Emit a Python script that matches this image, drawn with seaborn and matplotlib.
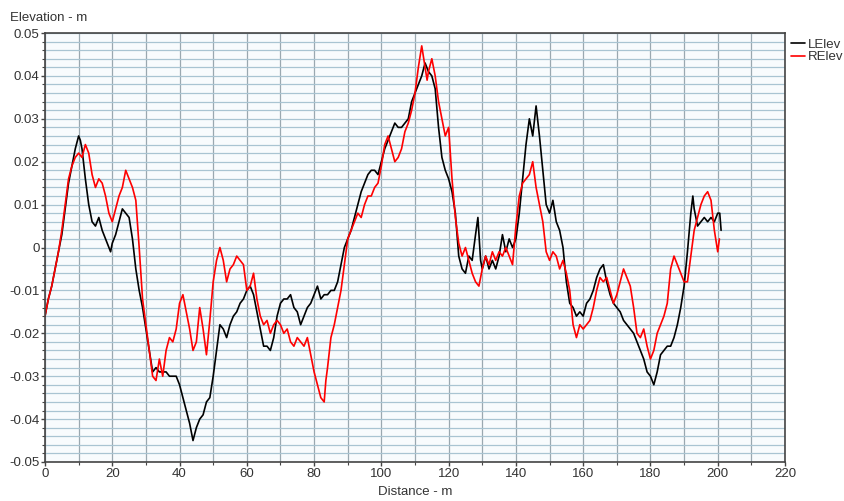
import numpy as np
import pandas as pd
import matplotlib
matplotlib.use("Agg")
import matplotlib.pyplot as plt
from matplotlib.ticker import MultipleLocator, FuncFormatter
import seaborn as sns

# ---- data ----
l_dist = [0, 1, 2, 3, 4, 5, 6, 7, 8, 9, 10, 10.5, 11, 12, 13, 14, 15, 16, 17, 18, 19, 19.5,
          20, 21, 22, 23, 24, 25, 26, 27, 28, 29, 30, 31, 32, 33, 34, 35, 36, 37, 38, 39,
          40, 41, 42, 43, 44, 45, 46, 47, 48, 49, 50, 51, 52, 53, 54, 55, 56, 57, 58, 59,
          60, 61, 62, 63, 64, 65, 66, 67, 68, 69, 70, 71, 72, 73, 74, 75, 76, 77, 78, 79,
          80, 81, 82, 83, 84, 85, 86, 87, 88, 89, 90, 91, 92, 93, 94, 95, 96, 97, 98, 99,
          100, 101, 102, 103, 104, 105, 106, 107, 108, 109, 110, 111, 112, 113, 114, 115,
          116, 117, 118, 119, 120, 121, 122, 123, 124, 125, 126, 127, 128, 128.7, 129.5,
          130, 131, 132, 133, 134, 135, 136, 137, 138, 139, 140, 141, 142, 143, 144, 145,
          146, 147, 148, 149, 150, 151, 152, 153, 154, 155, 156, 157, 158, 159, 160, 161,
          162, 163, 164, 165, 166, 167, 168, 169, 170, 171, 172, 173, 174, 175, 176, 177,
          178, 179, 180, 181, 182, 183, 184, 185, 186, 187, 188, 189, 190, 191, 192, 192.6,
          193, 194, 195, 196, 197, 198, 199, 200, 200.6, 201]
l_elev = [-0.016, -0.012, -0.009, -0.005, -0.001, 0.003, 0.009, 0.015, 0.019, 0.023, 0.026, 0.025,
          0.023, 0.016, 0.010, 0.006, 0.005, 0.007, 0.004, 0.002, 0.000, -0.001,
          0.001, 0.003, 0.006, 0.009, 0.008, 0.007, 0.002, -0.005, -0.010, -0.014, -0.019, -0.024,
          -0.029, -0.028, -0.029, -0.029, -0.029, -0.030, -0.030, -0.030,
          -0.032, -0.035, -0.038, -0.041, -0.045, -0.042, -0.040, -0.039, -0.036, -0.035, -0.030,
          -0.024, -0.018, -0.019, -0.021, -0.018, -0.016, -0.015, -0.013, -0.012,
          -0.010, -0.009, -0.011, -0.015, -0.019, -0.023, -0.023, -0.024, -0.021, -0.016, -0.013,
          -0.012, -0.012, -0.011, -0.014, -0.015, -0.018, -0.016, -0.014, -0.013,
          -0.011, -0.009, -0.012, -0.011, -0.011, -0.010, -0.010, -0.008, -0.004, 0.000, 0.002,
          0.004, 0.007, 0.010, 0.013, 0.015, 0.017, 0.018, 0.018, 0.017,
          0.020, 0.023, 0.025, 0.027, 0.029, 0.028, 0.028, 0.029, 0.030, 0.034, 0.036, 0.038,
          0.040, 0.043, 0.041, 0.040,
          0.037, 0.028, 0.021, 0.018, 0.016, 0.013, 0.008, -0.002, -0.005, -0.006, -0.002, -0.003,
          0.003, 0.007, -0.003,
          -0.005, -0.002, -0.005, -0.003, -0.005, -0.002, 0.003, -0.001, 0.002, 0.000, 0.002,
          0.008, 0.016, 0.024, 0.030, 0.026,
          0.033, 0.026, 0.018, 0.010, 0.008, 0.011, 0.006, 0.004, 0.000, -0.008, -0.013, -0.014,
          -0.016, -0.015, -0.016, -0.013,
          -0.012, -0.010, -0.007, -0.005, -0.004, -0.008, -0.011, -0.013, -0.014, -0.015, -0.017,
          -0.018, -0.019, -0.020, -0.022, -0.024,
          -0.026, -0.029, -0.030, -0.032, -0.029, -0.025, -0.024, -0.023, -0.023, -0.021, -0.018,
          -0.014, -0.009, -0.001, 0.008, 0.012,
          0.009, 0.005, 0.006, 0.007, 0.006, 0.007, 0.006, 0.008, 0.008, 0.004]

r_dist = [0, 1, 2, 3, 4, 5, 6, 7, 8, 9, 10, 11, 12, 13, 14, 15, 16, 17, 18, 19,
          20, 21, 22, 23, 24, 25, 26, 27, 28, 29, 30, 31, 32, 33, 34, 35, 36, 37, 38, 39,
          40, 41, 42, 43, 44, 45, 46, 47, 48, 49, 50, 51, 52, 53, 54, 55, 56, 57, 58, 59,
          60, 61, 62, 63, 64, 65, 66, 67, 68, 69, 70, 71, 72, 73, 74, 75, 76, 77, 78, 79,
          80, 81, 82, 83, 83.5, 84, 85, 86, 87, 88, 89, 90, 91, 92, 93, 94, 95, 96, 97, 98, 99,
          100, 101, 102, 103, 104, 105, 106, 107, 108, 109, 110, 111, 112, 113, 113.6, 114,
          115, 116, 117, 118, 119, 120, 121, 122, 123, 124, 125, 126, 127, 128, 129,
          130, 131, 132, 133, 134, 135, 136, 137, 138, 139, 140, 141, 142, 143, 144, 145,
          146, 147, 148, 149, 150, 151, 152, 153, 154, 155, 156, 157, 158, 159, 160, 161,
          162, 163, 164, 165, 166, 167, 168, 169, 170, 171, 172, 173, 174, 175, 176, 177,
          178, 179, 180, 181, 182, 183, 184, 185, 186, 187, 188, 189, 190, 191, 192, 193,
          194, 195, 196, 197, 198, 199, 200, 200.5]
r_elev = [-0.016, -0.012, -0.009, -0.005, -0.001, 0.004, 0.010, 0.016, 0.019, 0.021, 0.022,
          0.021, 0.024, 0.022, 0.017, 0.014, 0.016, 0.015, 0.012, 0.008,
          0.006, 0.009, 0.012, 0.014, 0.018, 0.016, 0.014, 0.011, 0.000, -0.012, -0.018, -0.024,
          -0.030, -0.031, -0.026, -0.030, -0.024, -0.021, -0.022, -0.019,
          -0.013, -0.011, -0.015, -0.019, -0.024, -0.022, -0.014, -0.019, -0.025, -0.017, -0.008,
          -0.003, 0.000, -0.003, -0.008, -0.005, -0.004, -0.002, -0.003, -0.004,
          -0.010, -0.009, -0.006, -0.012, -0.016, -0.018, -0.017, -0.020, -0.018, -0.017, -0.018,
          -0.020, -0.019, -0.022, -0.023, -0.021, -0.022, -0.023, -0.021, -0.025,
          -0.029, -0.032, -0.035, -0.036, -0.031, -0.028, -0.021, -0.018, -0.014, -0.010, -0.004,
          0.002, 0.004, 0.006, 0.008, 0.007, 0.010, 0.012, 0.012, 0.014, 0.015,
          0.019, 0.024, 0.026, 0.023, 0.020, 0.021, 0.023, 0.027, 0.029, 0.032, 0.036, 0.042,
          0.047, 0.042, 0.039, 0.041,
          0.044, 0.040, 0.034, 0.030, 0.026, 0.028, 0.016, 0.007, 0.001, -0.002, 0.000, -0.003,
          -0.006, -0.008, -0.009,
          -0.005, -0.002, -0.004, -0.001, -0.003, -0.001, -0.002, 0.000, -0.002, -0.004, 0.005,
          0.012, 0.015, 0.016, 0.017, 0.020,
          0.014, 0.010, 0.006, -0.001, -0.003, -0.001, -0.002, -0.005, -0.003, -0.006, -0.010,
          -0.018, -0.021, -0.018, -0.019, -0.018,
          -0.017, -0.014, -0.010, -0.007, -0.008, -0.007, -0.010, -0.013, -0.011, -0.008, -0.005,
          -0.007, -0.009, -0.014, -0.020, -0.021,
          -0.019, -0.023, -0.026, -0.024, -0.020, -0.018, -0.016, -0.013, -0.005, -0.002, -0.004,
          -0.006, -0.008, -0.008, -0.002, 0.004,
          0.007, 0.010, 0.012, 0.013, 0.011, 0.004, -0.001, 0.002]

series_names = ["LElev", "RElev"]
series_colors = ["black", "red"]

x_ticks = [0, 20, 40, 60, 80, 100, 120, 140, 160, 180, 200, 220]
y_ticks = [-0.05, -0.04, -0.03, -0.02, -0.01, 0, 0.01, 0.02, 0.03, 0.04, 0.05]

df = pd.concat([
    pd.DataFrame({"Distance": l_dist, "Elevation": l_elev, "Series": series_names[0]}),
    pd.DataFrame({"Distance": r_dist, "Elevation": r_elev, "Series": series_names[1]}),
], ignore_index=True)

sns.set_style("white")
plt.rcParams["font.family"] = ["Liberation Sans", "DejaVu Sans"]

fig = plt.figure(figsize=(8.45, 5.01), dpi=100)
ax = fig.add_axes([45 / 845, 1 - 462 / 501, 740 / 845, 429 / 501])

sns.lineplot(data=df, x="Distance", y="Elevation", hue="Series", hue_order=series_names,
             palette=dict(zip(series_names, series_colors)), sort=False, estimator=None,
             linewidth=1.2, ax=ax)

ax.set_xlim(0, 220)
ax.set_ylim(-0.05, 0.05)
ax.set_xticks(x_ticks)
ax.set_yticks(y_ticks)
ax.xaxis.set_minor_locator(MultipleLocator(10))
ax.yaxis.set_minor_locator(MultipleLocator(0.002))
ax.yaxis.set_major_formatter(FuncFormatter(lambda v, p: "0" if abs(v) < 1e-9 else f"{v:.2f}"))

ax.grid(which="both", axis="y", color="#a9c4d2", linewidth=0.9)
ax.grid(which="both", axis="x", color="#9aa8b0", linewidth=0.9)
ax.set_axisbelow(True)
ax.set_facecolor("#f8fbfd")

for s in ax.spines.values():
    s.set_color("#444444")
    s.set_linewidth(1.2)

ax.tick_params(which="major", length=3, width=1, color="#444444", labelsize=9.5,
               labelcolor="#333333", left=True, bottom=True, pad=1)
ax.tick_params(which="minor", length=2, width=0.8, color="#444444", left=True, bottom=True)

ax.set_xlabel("")
ax.set_ylabel("")
fig.text(10 / 845, 1 - 18 / 501, "Elevation - m", fontsize=9.5, color="#333333", va="center")
fig.text(415 / 845, 1 - 492 / 501, "Distance - m", fontsize=9.5, color="#333333",
         ha="center", va="center")

leg = ax.legend(loc="upper left", bbox_to_anchor=(0.998, 1.005), frameon=False,
                fontsize=9.5, handlelength=1.0, handletextpad=0.25, labelspacing=0.0,
                borderaxespad=0.2)
for t in leg.get_texts():
    t.set_color("#333333")

fig.savefig("out.png", dpi=100)
